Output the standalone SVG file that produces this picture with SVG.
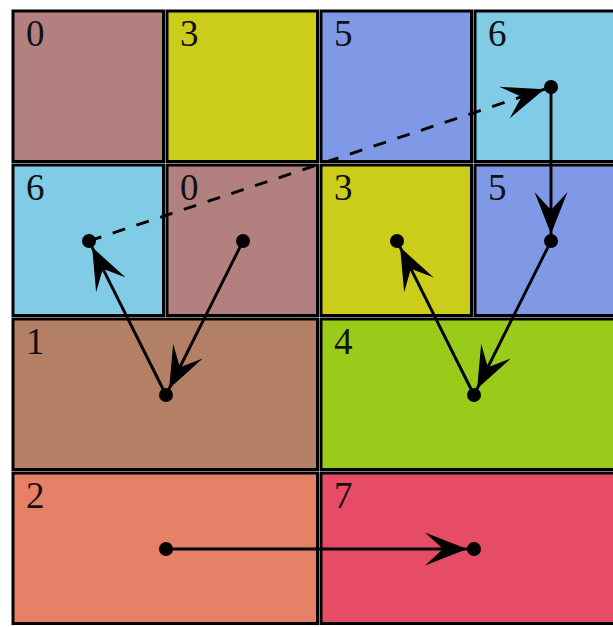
<svg xmlns="http://www.w3.org/2000/svg" width="613" height="627" viewBox="0 0 613 627">
<style>
.cell{stroke:#000;stroke-width:3}
.lbl{font-family:"Liberation Serif","Times New Roman",serif;font-size:37px;fill:#111}
.edge{stroke:#000;stroke-width:2.9;fill:none}
.dash{stroke-dasharray:13 12}
.dot{fill:#000}
</style>
<defs>
<marker id="ah" markerUnits="userSpaceOnUse" viewBox="-60 -20 60 40" markerWidth="60" markerHeight="40" refX="0" refY="0" orient="auto">
<path d="M-7,0 L-49,-16.5 L-31,0 L-49,16.5 Z" fill="#000"/>
</marker>
</defs>
<rect width="613" height="627" fill="#fff"/>
<g id="cell-r0c0"><rect class="cell" x="13" y="11" width="150.5" height="150.5" fill="#B38080"/><text class="lbl" x="26" y="46">0</text></g>
<g id="cell-r0c1"><rect class="cell" x="167" y="11" width="150.5" height="150.5" fill="#CCCC1A"/><text class="lbl" x="180" y="46">3</text></g>
<g id="cell-r0c2"><rect class="cell" x="321" y="11" width="150.5" height="150.5" fill="#8099E6"/><text class="lbl" x="334" y="46">5</text></g>
<g id="cell-r0c3"><rect class="cell" x="475" y="11" width="150.5" height="150.5" fill="#80CCE6"/><text class="lbl" x="488" y="46">6</text></g>
<g id="cell-r1c0"><rect class="cell" x="13" y="165" width="150.5" height="150.5" fill="#80CCE6"/><text class="lbl" x="26" y="200">6</text></g>
<g id="cell-r1c1"><rect class="cell" x="167" y="165" width="150.5" height="150.5" fill="#B38080"/><text class="lbl" x="180" y="200">0</text></g>
<g id="cell-r1c2"><rect class="cell" x="321" y="165" width="150.5" height="150.5" fill="#CCCC1A"/><text class="lbl" x="334" y="200">3</text></g>
<g id="cell-r1c3"><rect class="cell" x="475" y="165" width="150.5" height="150.5" fill="#8099E6"/><text class="lbl" x="488" y="200">5</text></g>
<g id="cell-r2a"><rect class="cell" x="13" y="319" width="304.5" height="150.5" fill="#B38066"/><text class="lbl" x="26" y="354">1</text></g>
<g id="cell-r2b"><rect class="cell" x="321" y="319" width="304.5" height="150.5" fill="#99CC1A"/><text class="lbl" x="334" y="354">4</text></g>
<g id="cell-r3a"><rect class="cell" x="13" y="473" width="304.5" height="150.5" fill="#E68066"/><text class="lbl" x="26" y="508">2</text></g>
<g id="cell-r3b"><rect class="cell" x="321" y="473" width="304.5" height="150.5" fill="#E64C66"/><text class="lbl" x="334" y="508">7</text></g>
<g id="connectors">
<line class="edge dash" x1="89" y1="241" x2="551" y2="87" marker-end="url(#ah)"/>
<line class="edge" x1="551" y1="87" x2="551" y2="241" marker-end="url(#ah)"/>
<line class="edge" x1="243" y1="241" x2="166" y2="395" marker-end="url(#ah)"/>
<line class="edge" x1="166" y1="395" x2="89" y2="241" marker-end="url(#ah)"/>
<line class="edge" x1="551" y1="241" x2="474" y2="395" marker-end="url(#ah)"/>
<line class="edge" x1="474" y1="395" x2="397" y2="241" marker-end="url(#ah)"/>
<line class="edge" x1="166" y1="549" x2="474" y2="549" marker-end="url(#ah)"/>
<circle class="dot" cx="551" cy="87" r="7"/>
<circle class="dot" cx="551" cy="241" r="7"/>
<circle class="dot" cx="89" cy="241" r="7"/>
<circle class="dot" cx="243" cy="241" r="7"/>
<circle class="dot" cx="397" cy="241" r="7"/>
<circle class="dot" cx="166" cy="395" r="7"/>
<circle class="dot" cx="474" cy="395" r="7"/>
<circle class="dot" cx="166" cy="549" r="7"/>
<circle class="dot" cx="474" cy="549" r="7"/>
</g>
</svg>
